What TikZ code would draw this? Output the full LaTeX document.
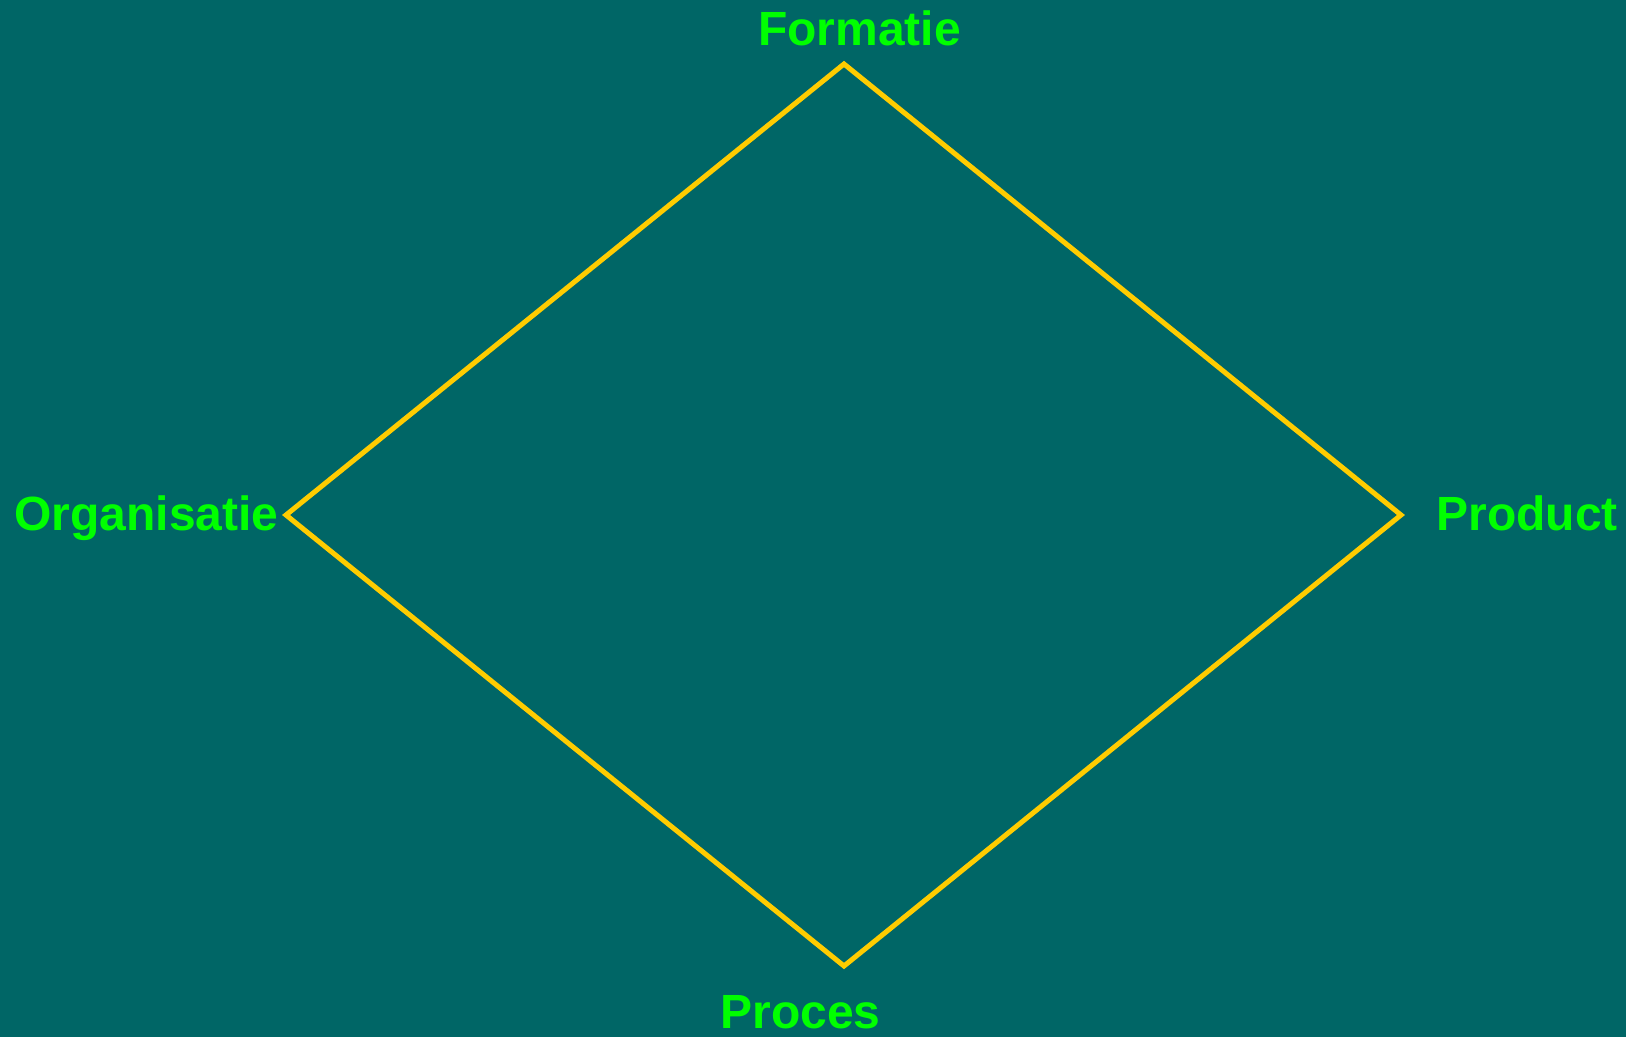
\documentclass[tikz,border=0pt]{standalone}
\usepackage{fontspec}
\setmainfont{Liberation Sans}
\definecolor{bgteal}{HTML}{006666}
\definecolor{lineyellow}{HTML}{FFCC00}
\definecolor{labelgreen}{HTML}{00FF00}
\begin{document}
\begin{tikzpicture}[x=1pt,y=-1pt,
  lbl/.style={text=labelgreen,font=\fontsize{48}{58}\selectfont\bfseries,inner sep=0pt,anchor=base},
  edge/.style={draw=lineyellow,line width=5pt,line join=miter}]
\fill[bgteal] (0,0) rectangle (1626,1037);
\useasboundingbox (0,0) rectangle (1626,1037);
\coordinate (top) at (844,64);
\coordinate (right) at (1401,515);
\coordinate (bottom) at (844,966);
\coordinate (left) at (286,515);
\draw[edge] (top) -- (right) -- (bottom) -- (left) -- cycle;
\node[lbl] (formatie) at (859.5,45) {Formatie};
\node[lbl] (organisatie) at (146.5,530) {Organisatie};
\node[lbl] (product) at (1527,530) {Product};
\node[lbl] (proces) at (800.5,1028) {Proces};
\end{tikzpicture}
\end{document}
